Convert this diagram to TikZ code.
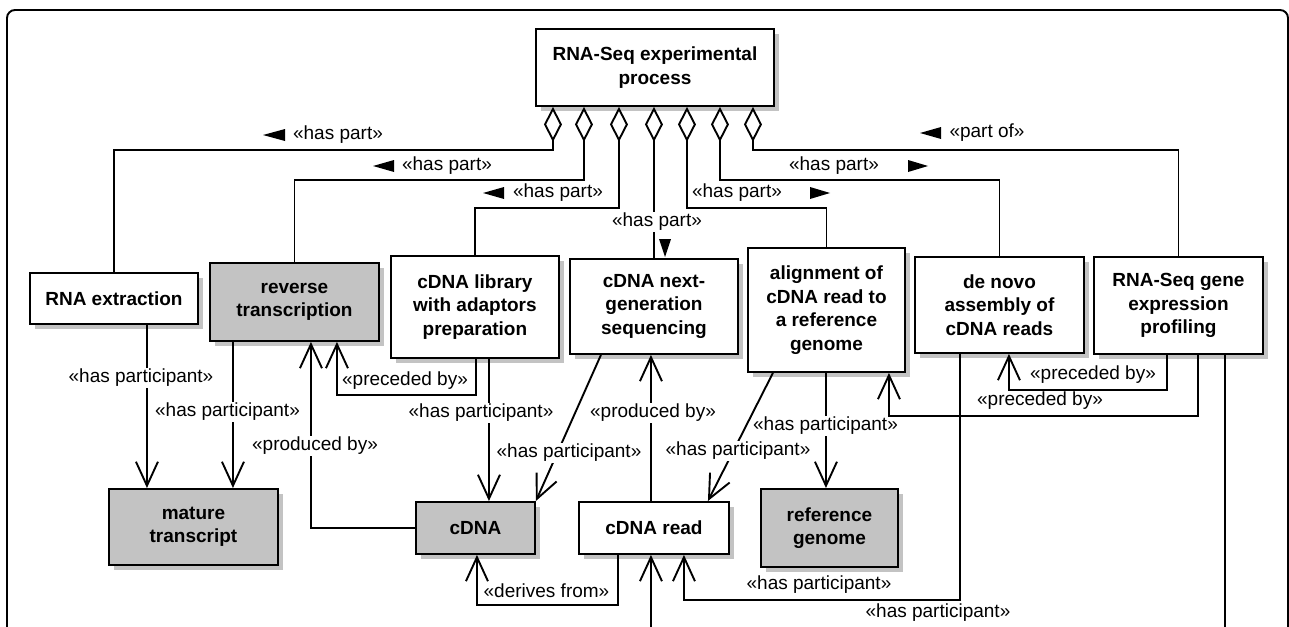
\documentclass[tikz,border=0pt]{standalone}
\usepackage{fontspec}
\setmainfont{Liberation Sans}
\usetikzlibrary{arrows.meta,shadows,calc}
\definecolor{boxgray}{RGB}{195,195,195}
\definecolor{shadowgray}{RGB}{195,195,195}

\begin{document}
\begin{tikzpicture}[x=1pt,y=-1pt,
  line width=1.9pt,
  box/.style={draw, line width=1.9pt, fill=white, anchor=north west, align=center,
    inner sep=2pt, font=\bfseries\fontsize{19}{23.5}\selectfont,
    drop shadow={shadow xshift=5pt,shadow yshift=-5pt,fill=shadowgray,opacity=1}},
  greybox/.style={box, fill=boxgray},
  lbl/.style={font=\fontsize{19}{22}\selectfont, inner sep=1pt},
  lblw/.style={lbl, fill=white},
  partic/.style={-{Straight Barb[length=24pt,width=22pt]}},
  whole/.style={{Diamond[open,length=35pt,width=18pt]}-},
]
\useasboundingbox (0,0) rectangle (1289,626);
\clip (0,0) rectangle (1289,626);

% outer frame
\draw[rounded corners=8pt] (7,10) rectangle (1288,700);

% process nodes
\node[box, minimum width=238pt, minimum height=77pt] (top) at (535,28) {RNA-Seq experimental\\process};
\node[box, minimum width=168pt, minimum height=51pt] (rnaext) at (29,272) {RNA extraction};
\node[greybox, minimum width=169pt, minimum height=78pt] (revtr) at (209,262) {reverse\\transcription};
\node[box, minimum width=168pt, minimum height=102pt] (lib) at (390,255) {cDNA library\\with adaptors\\preparation};
\node[box, minimum width=168pt, minimum height=95pt] (seq) at (569,258) {cDNA next-\\generation\\sequencing};
\node[box, minimum width=157pt, minimum height=124pt] (align) at (747,247) {alignment of\\cDNA read to\\a reference\\genome};
\node[box, minimum width=169pt, minimum height=96pt] (denovo) at (914,256) {de novo\\assembly of\\cDNA reads};
\node[box, minimum width=169pt, minimum height=97pt] (profile) at (1093,256) {RNA-Seq gene\\expression\\profiling};

% participant nodes
\node[greybox, minimum width=169pt, minimum height=76pt] (mature) at (108,488) {mature\\transcript};
\node[greybox, minimum width=119pt, minimum height=52pt] (cdna) at (415,501) {cDNA};
\node[box, minimum width=150pt, minimum height=52pt] (cdnaread) at (578,501) {cDNA read};
\node[greybox, minimum width=137pt, minimum height=78pt] (refgen) at (760,488) {reference\\genome};

% aggregation links from the whole process
\draw[whole] ([xshift=-102pt]top.south) -- ++(0,43) -| (rnaext.north);
\draw[whole] ([xshift=-71pt]top.south) -- ++(0,73) -| (revtr.north);
\draw[whole] ([xshift=-36pt]top.south) -- ++(0,101) -| (lib.north);
\draw[whole] ([xshift=-1pt]top.south) -- (seq.north);
\draw[whole] ([xshift=32pt]top.south) -- ++(0,101) -| (align.north);
\draw[whole] ([xshift=65pt]top.south) -- ++(0,73) -| (denovo.north);
\draw[whole] ([xshift=98pt]top.south) -- ++(0,43) -| (profile.north);

\node[lbl] (hp1) at (338,135) {«has part»};
\node[lbl] (hp2) at (447,166) {«has part»};
\node[lbl] (hp3) at (558,193) {«has part»};
\node[lblw] (hp4) at (657,222) {«has part»};
\node[lbl] (hp5) at (737,193) {«has part»};
\node[lbl] (hp6) at (834,166) {«has part»};
\node[lbl] (po7) at (987,133) {«part of»};

% reading-direction triangles
\fill (263,135) -- (285,129) -- (285,141) -- cycle;
\fill (373,166) -- (394,160) -- (394,172) -- cycle;
\fill (483,193) -- (504,187) -- (504,199) -- cycle;
\fill (659,239) -- (671,239) -- (665,257) -- cycle;
\fill (830,193) -- (810,187) -- (810,199) -- cycle;
\fill (928,166) -- (908,160) -- (908,172) -- cycle;
\fill (920,133) -- (941,127) -- (941,139) -- cycle;

% participation and ordering links
\draw[partic] ([xshift=33pt]rnaext.south) -- ([xshift=33pt]rnaext.south |- mature.north);
\node[lblw] at (141,378) {«has participant»};

\draw[partic] ([xshift=-61.5pt]revtr.south) -- ([xshift=-61.5pt]revtr.south |- mature.north);
\node[lblw] at (227.5,412) {«has participant»};

\draw[partic] (cdna.west) -| ([xshift=16.5pt]revtr.south);
\node[lblw] at (315,446) {«produced by»};

\draw[partic] ([xshift=1pt]lib.south) -- ++(0,36) -| ([xshift=42.5pt]revtr.south);
\node[lbl] at (405,381) {«preceded by»};

\draw[partic] ([xshift=14pt]lib.south) -- ([xshift=14pt]lib.south |- cdna.north);
\node[lblw] at (481,413) {«has participant»};

\draw[partic] ([xshift=-53pt]seq.south) -- (cdna.north east);
\node[lblw] at (569,453) {«has participant»};

\draw[partic] ([xshift=-3pt]cdnaread.north) -- ([xshift=-3pt]seq.south);
\node[lblw] at (653,413) {«produced by»};

\draw[partic] ([xshift=-36pt]cdnaread.south) -- ++(0,50) -| ([xshift=1.5pt]cdna.south);
\node[lbl] at (546.5,591) {«derives from»};

\draw[partic] ([xshift=-53.5pt]align.south) -- ([xshift=54pt]cdnaread.north);
\node[lblw] at (738,451) {«has participant»};

\draw[partic] ([xshift=-0.5pt]align.south) -- ([xshift=-0.5pt]align.south |- refgen.north);
\node[lblw] at (825.5,426) {«has participant»};

\draw[partic] ([xshift=19.5pt]profile.south) -- ++(0,61) -| ([xshift=62.5pt]align.south);
\node[lbl] at (1040,401) {«preceded by»};

\draw[partic] ([xshift=-11.5pt]profile.south) -- ++(0,35) -| ([xshift=9.5pt]denovo.south);
\node[lbl] at (1093,375) {«preceded by»};

\draw[partic] ([xshift=-39.5pt]denovo.south) -- ++(0,246) -| ([xshift=30pt]cdnaread.south);
\node[lbl] at (819,585) {«has participant»};

\draw[partic] ([xshift=46.5pt]profile.south) -- ++(0,300) -| ([xshift=-3pt]cdnaread.south);
\node[lbl] at (938,613) {«has participant»};
\end{tikzpicture}
\end{document}
